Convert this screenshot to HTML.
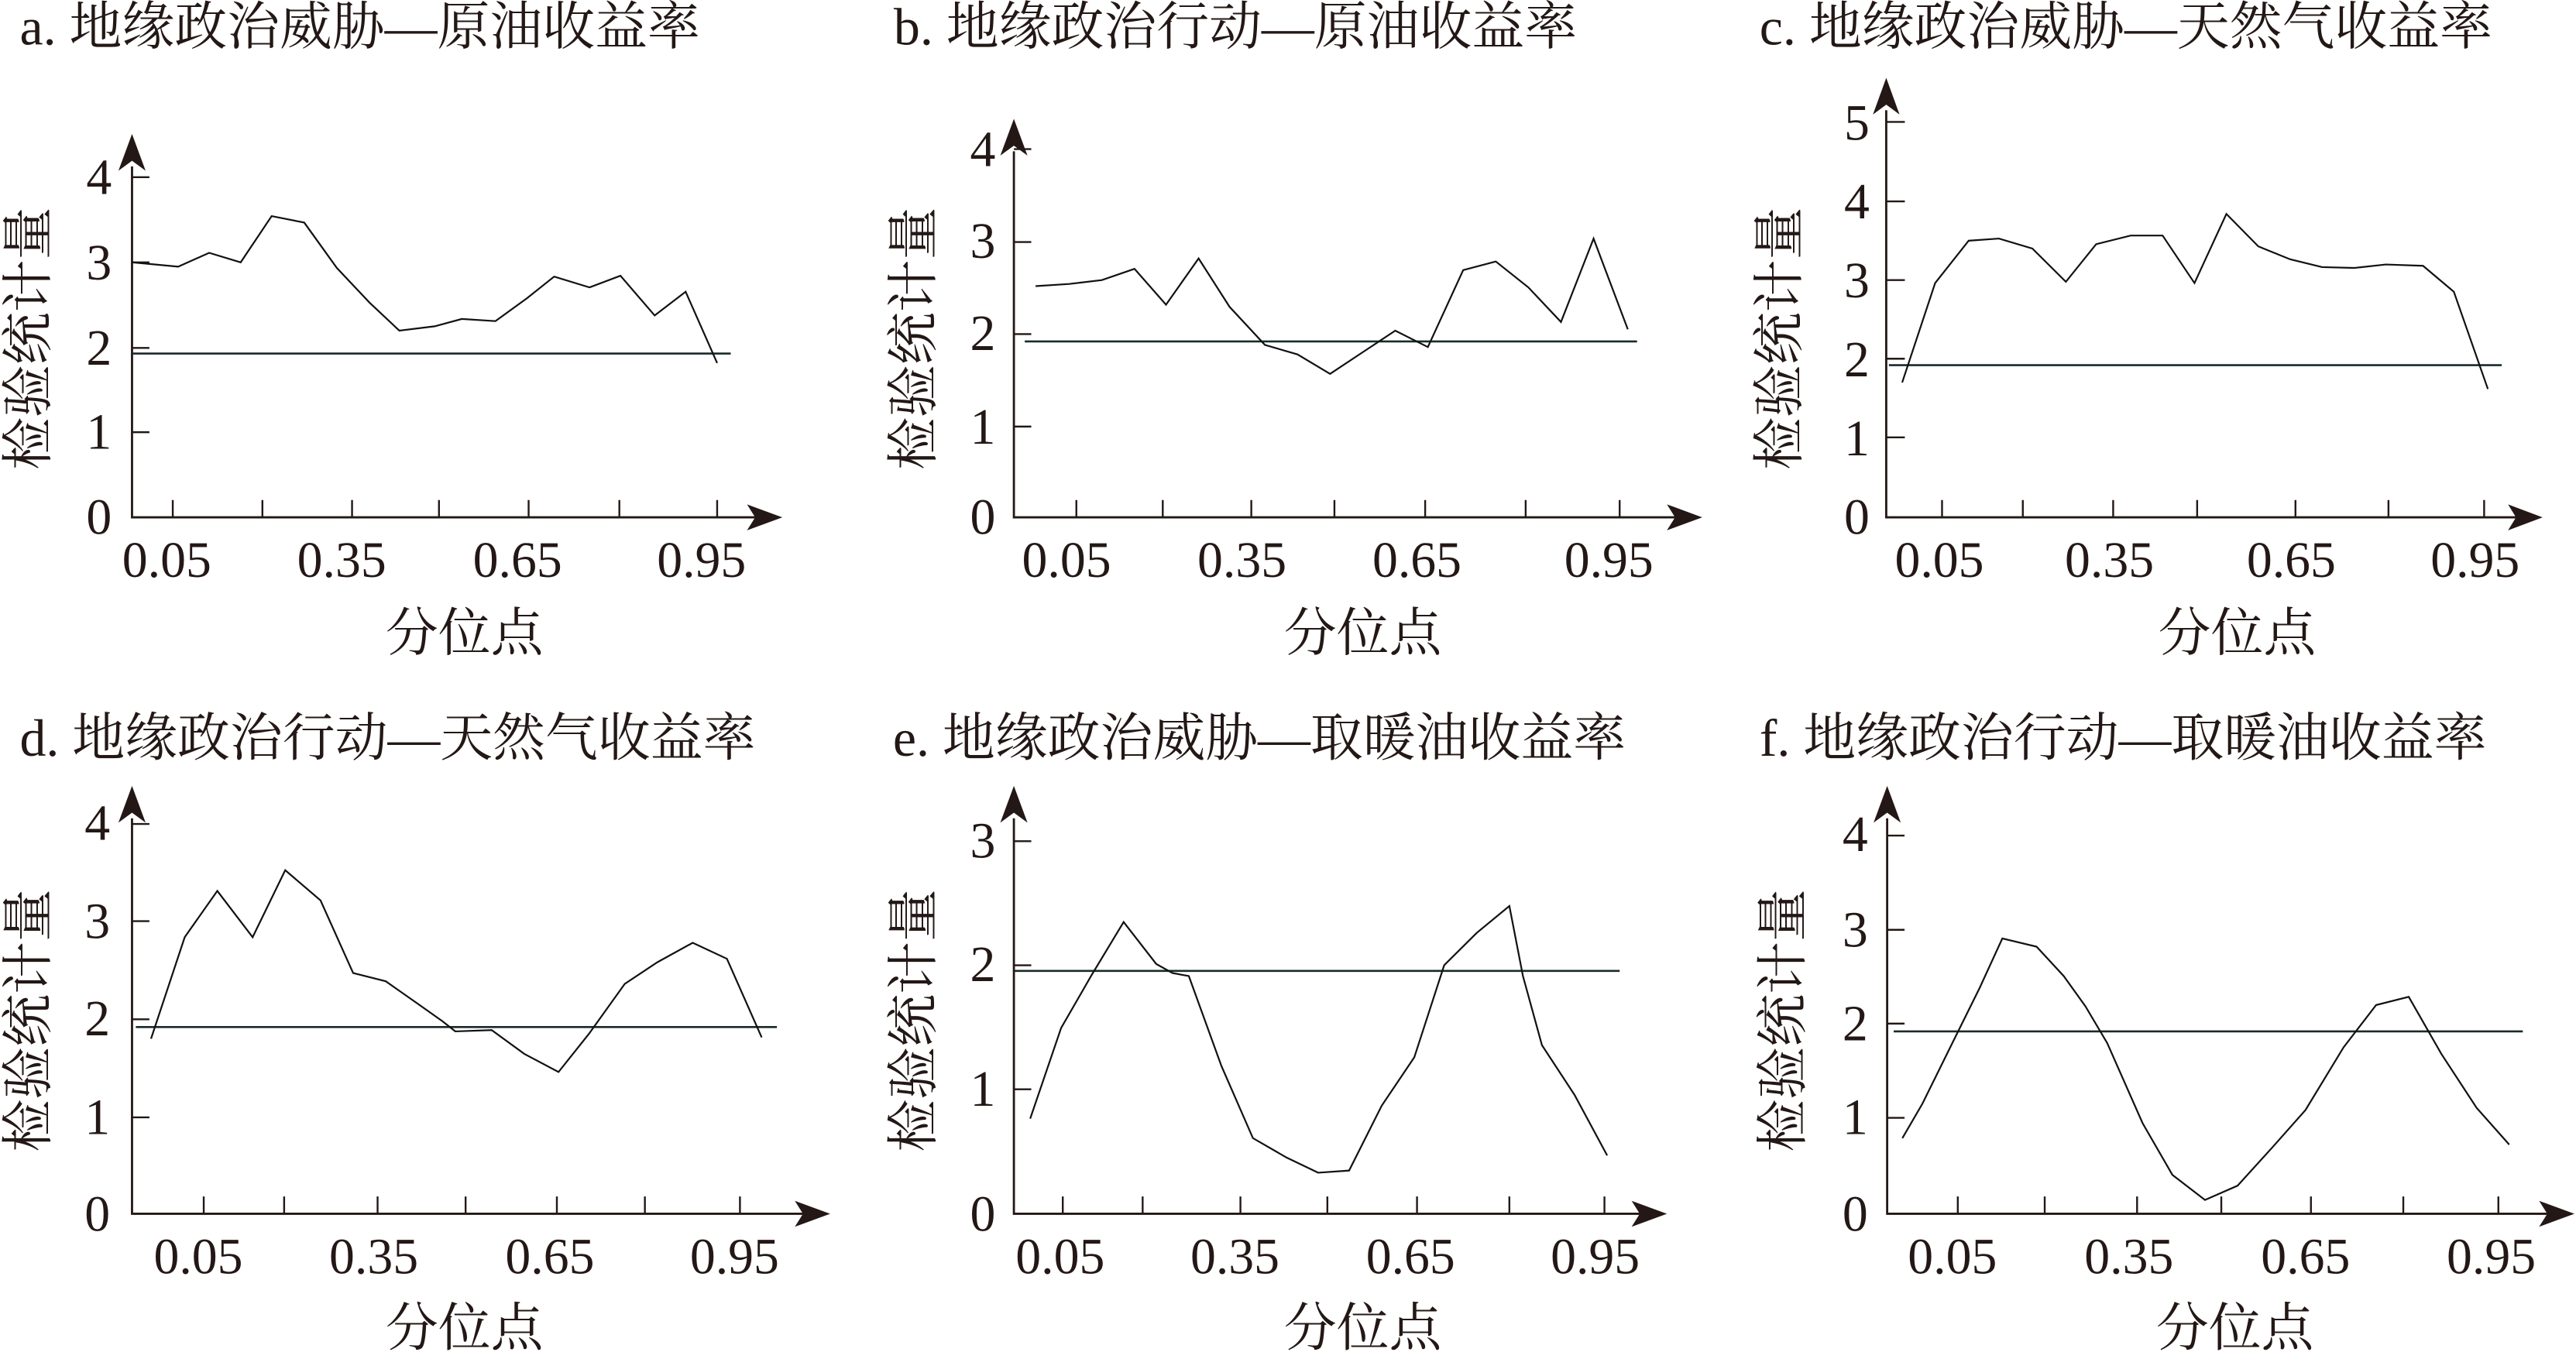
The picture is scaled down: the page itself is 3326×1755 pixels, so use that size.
<!DOCTYPE html>
<html><head><meta charset="utf-8"><style>
html,body{margin:0;padding:0;background:#fff;}
svg{display:block;}
text{font-family:"Liberation Serif","Noto Serif CJK SC",serif;fill:#231815;}
.t{font-size:32px;}
.n{font-size:31px;}
.ax{fill:none;stroke:#231815;stroke-width:2.8;vector-effect:non-scaling-stroke;}
.tk{fill:none;stroke:#231815;stroke-width:2.4;vector-effect:non-scaling-stroke;}
.hl{fill:none;stroke:#1a2a2a;stroke-width:2.6;vector-effect:non-scaling-stroke;}
.dl{fill:none;stroke:#111;stroke-width:2.2;stroke-linejoin:miter;vector-effect:non-scaling-stroke;}
.ar{fill:#231815;stroke:none;}
</style></head><body>
<svg width="3326" height="1755" viewBox="0 0 1568 827" preserveAspectRatio="none" xmlns="http://www.w3.org/2000/svg">
<rect width="1568" height="827" fill="#fff"/>

<!-- Panel a -->
<g transform="translate(0,0) scale(0.3307,0.263)">
<polyline class="ax" points="243,385 243,1197 1390,1197"/>
<polygon class="ar" points="243,310 268,395 243,372 218,395"/>
<polygon class="ar" points="1440,1197 1375,1167 1390,1197 1375,1227"/>
<path class="tk" d="M243 410H275M243 607H275M243 805H275M243 1000H275M318 1197V1157M483 1197V1157M648 1197V1157M808 1197V1157M973 1197V1157M1140 1197V1157M1320 1197V1157"/>
<line class="hl" x1="243" y1="818" x2="1345" y2="818"/>
<polyline class="dl" points="243,607 328,617 385,585 443,607 500,500 560,515 620,620 680,700 735,765 800,755 850,738 912,743 970,690 1020,640 1085,665 1142,638 1205,730 1262,675 1320,840"/>
</g>
<text class="t" x="12" y="27">a. 地缘政治威胁—原油收益率</text>
<text class="t" transform="translate(28,206) rotate(-90)" text-anchor="middle">检验统计量</text>
<g class="n" text-anchor="end"><text x="68" y="118">4</text><text x="68" y="170">3</text><text x="68" y="222">2</text><text x="68" y="273">1</text><text x="68" y="325">0</text></g>
<g class="n" text-anchor="middle"><text x="101.5" y="351">0.05</text><text x="208" y="351">0.35</text><text x="315" y="351">0.65</text><text x="427" y="351">0.95</text></g>
<text class="t" x="282.7" y="396" text-anchor="middle">分位点</text>

<!-- Panel b -->
<g transform="translate(518.6,0) scale(0.3307,0.263)">
<polyline class="ax" points="298,350 298,1197 1515,1197"/>
<polygon class="ar" points="298,275 323,360 298,337 273,360"/>
<polygon class="ar" points="1565,1197 1500,1167 1515,1197 1500,1227"/>
<path class="tk" d="M298 345H330M298 560H330M298 773H330M298 987H330M413 1197V1157M572 1197V1157M735 1197V1157M888 1197V1157M1055 1197V1157M1240 1197V1157M1413 1197V1157"/>
<line class="hl" x1="318" y1="790" x2="1445" y2="790"/>
<polyline class="dl" points="338,662 400,657 460,648 520,622 578,705 638,598 695,710 760,798 820,820 880,865 940,815 1000,765 1060,803 1125,625 1185,605 1245,665 1305,745 1365,552 1428,762"/>
</g>
<text class="t" x="544" y="27">b. 地缘政治行动—原油收益率</text>
<text class="t" transform="translate(567,206) rotate(-90)" text-anchor="middle">检验统计量</text>
<g class="n" text-anchor="end"><text x="606" y="101">4</text><text x="606" y="157">3</text><text x="606" y="213">2</text><text x="606" y="270">1</text><text x="606" y="325">0</text></g>
<g class="n" text-anchor="middle"><text x="649.2" y="351">0.05</text><text x="756" y="351">0.35</text><text x="862.5" y="351">0.65</text><text x="979.3" y="351">0.95</text></g>
<text class="t" x="829.5" y="396" text-anchor="middle">分位点</text>

<!-- Panel c -->
<g transform="translate(1060.8,0) scale(0.3235,0.263)">
<polyline class="ax" points="270,255 270,1197 1455,1197"/>
<polygon class="ar" points="270,180 295,265 270,242 245,265"/>
<polygon class="ar" points="1505,1197 1440,1167 1455,1197 1440,1227"/>
<path class="tk" d="M270 282H305M270 466H305M270 648H305M270 830H305M270 1012H305M375 1197V1157M527 1197V1157M697 1197V1157M855 1197V1157M1040 1197V1157M1215 1197V1157M1395 1197V1157"/>
<line class="hl" x1="275" y1="845" x2="1428" y2="845"/>
<polyline class="dl" points="300,885 362,655 425,557 482,552 545,575 608,652 665,565 730,545 790,545 850,655 910,495 970,570 1030,600 1090,618 1150,620 1210,612 1280,615 1338,675 1402,900"/>
</g>
<text class="t" x="1071" y="27">c. 地缘政治威胁—天然气收益率</text>
<text class="t" transform="translate(1094,206) rotate(-90)" text-anchor="middle">检验统计量</text>
<g class="n" text-anchor="end"><text x="1138" y="85">5</text><text x="1138" y="133">4</text><text x="1138" y="181">3</text><text x="1138" y="229">2</text><text x="1138" y="277">1</text><text x="1138" y="325">0</text></g>
<g class="n" text-anchor="middle"><text x="1180.5" y="351">0.05</text><text x="1284" y="351">0.35</text><text x="1394.7" y="351">0.65</text><text x="1506.6" y="351">0.95</text></g>
<text class="t" x="1361.7" y="396" text-anchor="middle">分位点</text>

<!-- Panel d -->
<g transform="translate(0,412.5) scale(0.3307,0.263)">
<polyline class="ax" points="243,325 243,1240 1478,1240"/>
<polygon class="ar" points="243,250 268,335 243,312 218,335"/>
<polygon class="ar" points="1528,1240 1463,1210 1478,1240 1463,1270"/>
<path class="tk" d="M243 338H275M243 563H275M243 790H275M243 1017H275M375 1240V1200M523 1240V1200M695 1240V1200M857 1240V1200M1025 1240V1200M1187 1240V1200M1362 1240V1200"/>
<line class="hl" x1="250" y1="808" x2="1430" y2="808"/>
<polyline class="dl" points="278,835 340,600 400,493 465,600 525,445 590,515 650,683 710,702 770,755 815,795 838,818 905,815 965,870 1028,912 1085,822 1150,708 1210,658 1275,613 1338,650 1402,832"/>
</g>
<text class="t" x="12" y="460">d. 地缘政治行动—天然气收益率</text>
<text class="t" transform="translate(28,621) rotate(-90)" text-anchor="middle">检验统计量</text>
<g class="n" text-anchor="end"><text x="67" y="511">4</text><text x="67" y="571">3</text><text x="67" y="630">2</text><text x="67" y="690">1</text><text x="67" y="749">0</text></g>
<g class="n" text-anchor="middle"><text x="120.7" y="775">0.05</text><text x="227.5" y="775">0.35</text><text x="334.7" y="775">0.65</text><text x="447.1" y="775">0.95</text></g>
<text class="t" x="282.7" y="819" text-anchor="middle">分位点</text>

<!-- Panel e -->
<g transform="translate(518.6,412.5) scale(0.3307,0.263)">
<polyline class="ax" points="298,325 298,1240 1450,1240"/>
<polygon class="ar" points="298,250 323,335 298,312 273,335"/>
<polygon class="ar" points="1500,1240 1435,1210 1450,1240 1435,1270"/>
<path class="tk" d="M298 378H330M298 665H330M298 952H330M388 1240V1200M535 1240V1200M715 1240V1200M875 1240V1200M1040 1240V1200M1210 1240V1200M1385 1240V1200"/>
<line class="hl" x1="300" y1="678" x2="1413" y2="678"/>
<polyline class="dl" points="328,1020 385,810 440,690 500,565 560,662 590,683 620,690 680,898 738,1065 800,1110 858,1145 915,1140 975,990 1035,878 1090,665 1150,590 1210,528 1235,690 1270,850 1330,965 1390,1105"/>
</g>
<text class="t" x="543.5" y="460">e. 地缘政治威胁—取暖油收益率</text>
<text class="t" transform="translate(567,621) rotate(-90)" text-anchor="middle">检验统计量</text>
<g class="n" text-anchor="end"><text x="606" y="522">3</text><text x="606" y="597">2</text><text x="606" y="673">1</text><text x="606" y="749">0</text></g>
<g class="n" text-anchor="middle"><text x="645.3" y="775">0.05</text><text x="751.7" y="775">0.35</text><text x="858.6" y="775">0.65</text><text x="971" y="775">0.95</text></g>
<text class="t" x="829.5" y="819" text-anchor="middle">分位点</text>

<!-- Panel f -->
<g transform="translate(1049.5,412.5) scale(0.3307,0.263)">
<polyline class="ax" points="300,325 300,1240 1515,1240"/>
<polygon class="ar" points="300,250 325,335 300,312 275,335"/>
<polygon class="ar" points="1565,1240 1500,1210 1515,1240 1500,1270"/>
<path class="tk" d="M300 365H332M300 583H332M300 800H332M300 1018H332M430 1240V1200M590 1240V1200M760 1240V1200M915 1240V1200M1080 1240V1200M1250 1240V1200M1425 1240V1200"/>
<line class="hl" x1="312" y1="818" x2="1470" y2="818"/>
<polyline class="dl" points="328,1065 365,985 418,850 470,718 512,603 575,622 625,690 665,760 705,845 770,1030 825,1150 885,1208 945,1175 1010,1085 1070,1000 1140,855 1200,757 1260,738 1320,870 1385,995 1445,1080"/>
</g>
<text class="t" x="1071" y="460">f. 地缘政治行动—取暖油收益率</text>
<text class="t" transform="translate(1096,621) rotate(-90)" text-anchor="middle">检验统计量</text>
<g class="n" text-anchor="end"><text x="1137" y="518">4</text><text x="1137" y="576">3</text><text x="1137" y="633">2</text><text x="1137" y="690">1</text><text x="1137" y="749">0</text></g>
<g class="n" text-anchor="middle"><text x="1188.4" y="775">0.05</text><text x="1295.9" y="775">0.35</text><text x="1403.4" y="775">0.65</text><text x="1516.4" y="775">0.95</text></g>
<text class="t" x="1360.4" y="819" text-anchor="middle">分位点</text>
</svg>
</body></html>
